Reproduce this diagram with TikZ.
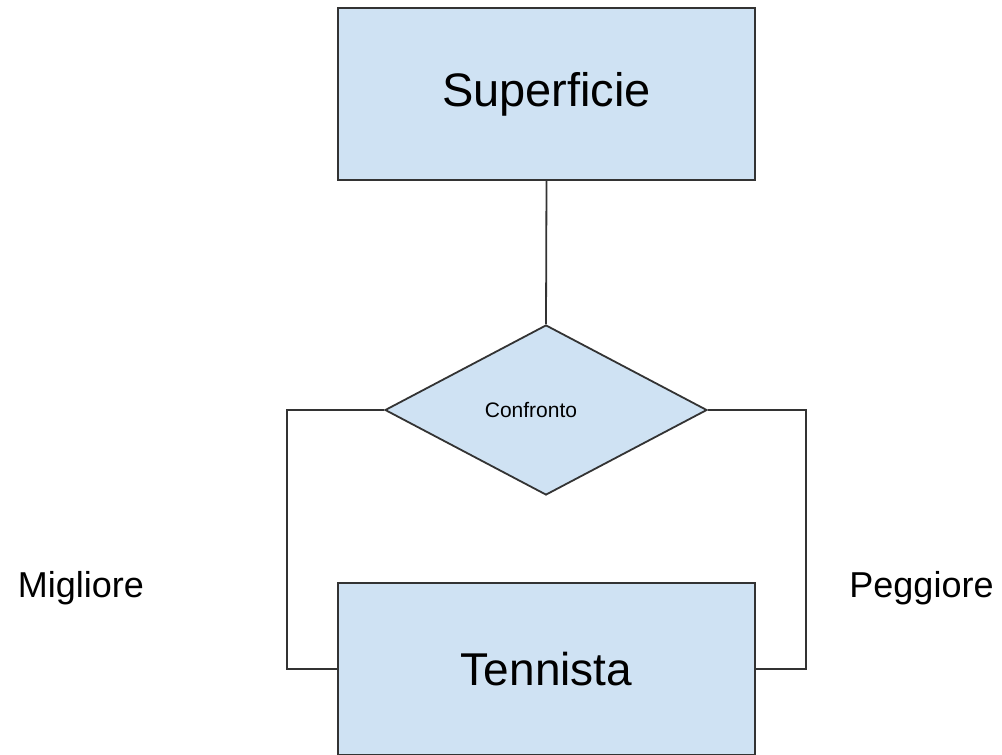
\documentclass[tikz,border=0pt]{standalone}
\usepackage{fontspec}
\setmainfont{Liberation Sans}
\usetikzlibrary{shapes.geometric}
\definecolor{erblue}{HTML}{CFE2F3}
\definecolor{erline}{HTML}{333333}

\begin{document}
\begin{tikzpicture}[x=1pt,y=-1pt,
		entity/.style={draw=erline, fill=erblue, line width=1.8pt, minimum width=417pt, minimum height=172pt, inner sep=0pt},
		relation/.style={draw=erline, fill=erblue, line width=1.8pt, diamond, aspect=1.894, minimum width=322pt, minimum height=170pt, inner sep=0pt},
		link/.style={draw=erline, line width=1.8pt}]
		\useasboundingbox (0,0) rectangle (1002,755);
		\node[entity, font=\fontsize{47}{56}\selectfont] (sup) at (546.5,94) {Superficie};
		\node[relation, font=\fontsize{21}{25}\selectfont] (conf) at (546,410) {Confronto\hspace*{30pt}};
		\node[entity, font=\fontsize{46}{55}\selectfont] (ten) at (546.5,669) {Tennista};
		\draw[link] (sup.south) -- (conf.north);
		\draw[link] (conf.west) -| ([xshift=-50pt]ten.west) -- (ten.west);
		\draw[link] (conf.east) -| ([xshift=50pt]ten.east) -- (ten.east);
		\node[anchor=base, font=\fontsize{36}{43}\selectfont] (mig) at (81,597) {Migliore};
		\node[anchor=base, font=\fontsize{36}{43}\selectfont] (peg) at (921.5,597) {Peggiore};
\end{tikzpicture}
\end{document}
